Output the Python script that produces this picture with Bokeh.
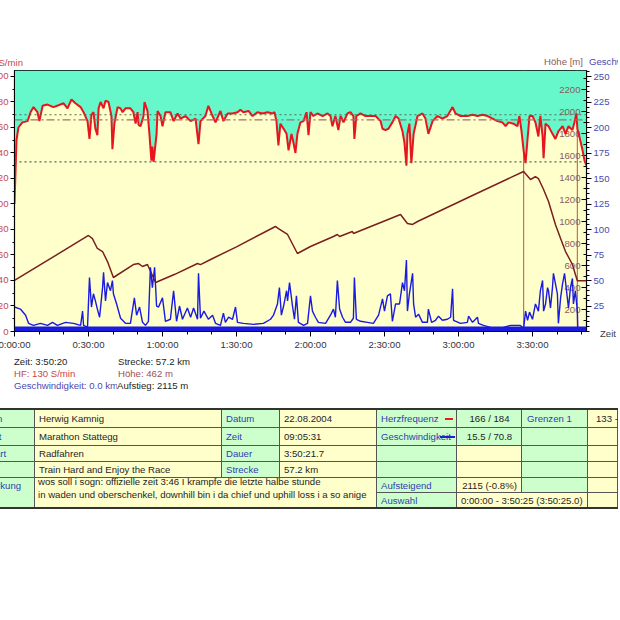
import numpy as np
from bokeh.plotting import figure
from bokeh.models import Range1d, LinearAxis, FixedTicker, BoxAnnotation, Span, Div
from bokeh.layouts import column
from bokeh.embed import file_html
from bokeh.resources import INLINE
from bokeh.core.properties import value

# ---------------- data (time in minutes) ----------------
hr_time_min = [
    0.0, 0.8, 1.6, 3.2, 5.3, 6.5, 7.7, 9.3, 10.1, 11.4,
    13.4, 15.8, 18.6, 19.9, 21.5, 23.1, 24.7, 26.8, 28.0, 29.6,
    30.4, 31.2, 32.0, 32.8, 33.6, 34.1, 34.9, 36.1, 36.9, 38.1,
    39.3, 39.7, 40.5, 41.8, 43.0, 43.8, 45.0, 47.0, 48.2, 49.1,
    49.9, 50.3, 51.1, 52.3, 52.7, 53.9, 54.7, 55.5, 55.9, 56.4,
    57.6, 58.0, 59.2, 60.0, 61.2, 63.2, 64.5, 66.1, 67.3, 69.3,
    71.4, 73.4, 74.6, 75.4, 77.4, 78.6, 80.3, 81.5, 83.5, 84.7,
    86.4, 88.4, 90.4, 91.6, 92.8, 94.9, 96.5, 98.5, 100.5, 102.6,
    104.6, 105.4, 106.2, 107.0, 107.8, 109.1, 110.3, 111.1, 112.3, 113.1,
    113.9, 114.7, 115.9, 117.2, 118.4, 119.2, 120.0, 121.2, 122.8, 124.9,
    126.9, 128.1, 128.9, 130.1, 131.3, 132.2, 133.4, 135.0, 136.2, 137.4,
    137.8, 138.6, 140.3, 142.3, 144.3, 146.4, 148.4, 149.2, 150.4, 151.6,
    153.2, 154.5, 155.7, 157.3, 158.1, 158.9, 159.3, 160.1, 160.9, 161.8,
    163.4, 165.4, 166.6, 167.8, 169.5, 171.5, 173.5, 175.5, 177.6, 178.8,
    180.8, 183.6, 185.7, 187.7, 189.7, 191.8, 193.8, 195.8, 197.8, 199.1,
    200.3, 202.3, 203.9, 204.7, 205.5, 206.4, 207.2, 208.0, 208.8, 210.0,
    211.2, 212.4, 213.2, 214.1, 214.5, 215.3, 216.5, 218.1, 219.3, 220.5,
    222.2, 223.4, 224.6, 226.2, 227.0, 227.8, 228.2, 229.0, 230.2, 231.1,
    231.9]
hr_bpm = [
    100, 150, 160, 164, 165, 172, 176, 172, 165, 177,
    178, 176, 178, 179, 175, 182, 179, 176, 172, 165,
    151, 170, 172, 159, 154, 175, 180, 175, 181, 180,
    169, 143, 163, 176, 175, 172, 175, 175, 172, 163,
    172, 162, 161, 169, 180, 173, 155, 134, 145, 133,
    155, 173, 169, 161, 172, 172, 165, 171, 167, 169,
    165, 167, 147, 165, 169, 177, 169, 164, 173, 165,
    171, 171, 172, 174, 172, 173, 169, 172, 171, 172,
    171, 172, 165, 146, 163, 159, 155, 142, 155, 148,
    140, 155, 164, 165, 172, 154, 172, 169, 171, 169,
    171, 169, 161, 169, 158, 169, 164, 171, 172, 169,
    151, 169, 171, 169, 169, 169, 165, 159, 158, 159,
    164, 169, 167, 157, 148, 130, 155, 163, 132, 155,
    169, 171, 167, 155, 165, 169, 167, 169, 176, 171,
    169, 169, 170, 169, 170, 169, 167, 165, 164, 161,
    164, 163, 161, 169, 158, 142, 132, 151, 169, 169,
    164, 153, 169, 153, 136, 163, 161, 155, 151, 157,
    161, 155, 161, 158, 164, 171, 159, 153, 143, 134,
    130]

alt_time_min = [
    0.0, 30.0, 31.6, 33.6, 35.7, 37.7, 40.1, 48.2, 50.3, 51.9,
    53.9, 57.2, 65.0, 74.2, 75.4, 79.5, 90.0, 105.8, 107.0, 110.7,
    114.7, 120.0, 129.3, 130.9, 131.8, 137.0, 137.4, 156.5, 159.3, 161.4,
    163.4, 185.0, 206.4, 209.2, 211.2, 212.4, 214.5, 216.5, 219.3, 221.4,
    223.4, 226.2, 227.4, 228.2, 231.9]
alt_m = [
    464, 873, 845, 755, 727, 636, 491, 609, 618, 591,
    609, 445, 520, 618, 608, 655, 770, 955, 936, 882,
    709, 773, 864, 882, 864, 909, 891, 1064, 982, 973,
    1000, 1230, 1455, 1382, 1409, 1391, 1291, 1182, 973, 845,
    727, 609, 518, 462, 462]

spd_time_min = [
    0.0, 2.4, 4.5, 5.7, 7.7, 10.5, 13.4, 15.4, 17.4, 20.7,
    23.9, 26.8, 27.6, 28.0, 29.6, 30.4, 31.2, 32.0, 32.8, 33.6,
    34.5, 35.7, 36.1, 36.9, 37.7, 38.9, 39.7, 40.1, 41.4, 43.0,
    45.0, 47.0, 48.6, 49.5, 50.7, 51.9, 53.1, 54.3, 55.1, 55.9,
    56.8, 57.6, 58.4, 60.0, 61.2, 63.2, 64.5, 65.7, 66.9, 68.1,
    70.1, 71.4, 72.6, 74.2, 74.6, 75.4, 76.8, 78.6, 80.3, 81.5,
    83.5, 84.7, 85.5, 86.8, 88.4, 89.6, 90.4, 92.8, 96.9, 100.9,
    103.8, 105.0, 106.6, 107.4, 108.2, 109.1, 110.3, 110.7, 111.5, 112.7,
    113.5, 114.3, 115.1, 117.2, 118.8, 120.0, 120.8, 122.0, 123.2, 126.1,
    128.1, 129.3, 130.1, 130.9, 131.8, 133.0, 134.2, 136.2, 137.4, 137.8,
    138.6, 140.3, 143.1, 145.5, 147.6, 149.2, 150.0, 151.2, 152.4, 153.2,
    154.5, 156.1, 157.3, 158.1, 158.9, 159.3, 160.1, 161.4, 161.8, 162.6,
    163.8, 165.4, 167.4, 167.8, 169.1, 170.7, 171.9, 173.5, 175.5, 176.8,
    177.6, 178.0, 180.8, 183.6, 184.1, 185.7, 187.7, 188.1, 190.1, 193.0,
    197.0, 201.1, 205.1, 206.4, 207.2, 208.0, 208.8, 210.0, 211.2, 212.4,
    213.2, 214.1, 214.5, 215.3, 216.1, 216.5, 217.3, 218.1, 218.5, 219.3,
    220.1, 220.5, 221.4, 222.2, 223.0, 223.8, 224.6, 225.4, 226.2, 226.6,
    227.4, 228.2, 228.4, 231.9]
spd_kmh = [
    24, 22, 16, 8, 6, 8, 6, 9, 6, 9,
    8, 6, 20, 6, 4, 53, 24, 37, 30, 22,
    14, 43, 58, 30, 48, 40, 50, 37, 27, 13,
    8, 8, 33, 16, 24, 9, 6, 10, 63, 43,
    63, 25, 24, 33, 10, 12, 40, 10, 25, 12,
    23, 14, 23, 12, 57, 13, 20, 12, 16, 8,
    6, 18, 9, 14, 12, 24, 9, 8, 7, 8,
    12, 16, 27, 43, 16, 25, 40, 30, 48, 25,
    12, 35, 9, 6, 8, 35, 20, 14, 9, 8,
    16, 22, 14, 50, 22, 14, 9, 9, 13, 53,
    12, 10, 9, 8, 16, 32, 20, 35, 37, 10,
    27, 27, 48, 40, 70, 20, 37, 57, 27, 14,
    17, 9, 9, 22, 9, 11, 15, 11, 12, 14,
    42, 11, 8, 9, 15, 9, 14, 8, 6, 4,
    3, 6, 6, 3, 20, 11, 19, 12, 27, 20,
    40, 50, 20, 27, 43, 40, 23, 43, 57, 47,
    37, 8, 33, 47, 57, 40, 23, 43, 52, 27,
    40, 20, 0, 0]

hr_limits = [133, 170]
hr_mean = 166
lap_min = [206.4, 228.2]
x_end_min = 231.9
time_tick_labels = ["0:00:00", "0:30:00", "1:00:00", "1:30:00", "2:00:00",
                    "2:30:00", "3:00:00", "3:30:00"]
hr_ticks = [0, 20, 40, 60, 80, 100, 120, 140, 160, 180, 200]
alt_ticks = [200, 400, 600, 800, 1000, 1200, 1400, 1600, 1800, 2000, 2200]
spd_ticks = [25, 50, 75, 100, 125, 150, 175, 200, 225, 250]

assert len(hr_time_min) == len(hr_bpm)
assert len(alt_time_min) == len(alt_m)
assert len(spd_time_min) == len(spd_kmh)

# ---------------- styling ----------------
FONT = "Liberation Sans"
FS = "9.6px"
HR_COL = "#C8464B"
ALT_COL = "#8A5C5C"
SPD_COL = "#4A4AB0"
CYAN = "#66F8CA"
YELLOW = "#FFFFCC"
W = 650

def sec(arr):
    return [m * 60.0 for m in arr]

X_END = x_end_min * 60.0
HR_TOP = 204.7

p = figure(width=W, height=287, output_backend="svg", toolbar_location=None,
           x_range=Range1d(0, X_END), y_range=Range1d(0, HR_TOP),
           min_border_left=46, min_border_right=32, min_border_top=2,
           min_border_bottom=24, background_fill_color=YELLOW,
           border_fill_color="white", outline_line_color="black",
           outline_line_width=1.2)
p.extra_y_ranges = {"alt": Range1d(0, 2373), "spd": Range1d(0, 256)}
p.grid.visible = False

# x axis
xt = [i * 1800 for i in range(len(time_tick_labels))]
xm = [i * 600 for i in range(int(X_END // 600) + 1)]
xa = p.xaxis[0]
xa.ticker = FixedTicker(ticks=xt, minor_ticks=xm)
xa.major_label_overrides = {t: s for t, s in zip(xt, time_tick_labels)}
xa.major_tick_out = 5
xa.major_tick_in = 0
xa.minor_tick_out = 3
xa.minor_tick_in = 0
xa.major_label_standoff = 2
xa.major_label_text_font = FONT
xa.major_label_text_font_size = FS
xa.major_label_text_color = "#333333"
xa.axis_line_color = "black"

# left HR axis
ya = p.yaxis[0]
ya.ticker = FixedTicker(ticks=hr_ticks, minor_ticks=list(range(0, 205, 10)))
ya.major_tick_out = 4
ya.major_tick_in = 0
ya.minor_tick_out = 2
ya.minor_tick_in = 0
ya.major_label_standoff = 2
ya.major_label_text_font = FONT
ya.major_label_text_font_size = FS
ya.major_label_text_color = HR_COL

# right speed axis
sa = LinearAxis(y_range_name="spd",
                ticker=FixedTicker(ticks=spd_ticks, minor_ticks=list(range(0, 256, 5))))
sa.major_tick_out = 5
sa.major_tick_in = 0
sa.minor_tick_out = 3
sa.minor_tick_in = 0
sa.major_label_standoff = 2
sa.major_label_text_font = FONT
sa.major_label_text_font_size = FS
sa.major_label_text_color = SPD_COL
p.add_layout(sa, "right")

# lap / cursor lines (under the cyan fill)
lap_s = sec(lap_min)
p.segment(x0=lap_s, x1=lap_s, y0=[0] * len(lap_s), y1=[HR_TOP] * len(lap_s),
          line_color="#C8705A", line_width=1.2)

hr_s = sec(hr_time_min)
p.varea(x=hr_s, y1=hr_bpm, y2=[HR_TOP] * len(hr_s), fill_color=CYAN)

# altitude tick labels inside the frame
p.text(x=[X_END] * len(alt_ticks), y=alt_ticks, text=[str(v) for v in alt_ticks],
       y_range_name="alt", x_offset=-6, text_align="right", text_baseline="middle",
       text_font=value(FONT), text_font_size=FS, text_color=ALT_COL)
p.ray(x=[X_END] * len(alt_ticks), y=alt_ticks, length=5, length_units="screen",
      angle=np.pi, y_range_name="alt", line_color="black", line_width=1)
alt_minor = list(range(100, 2373, 200))
p.ray(x=[X_END] * len(alt_minor), y=alt_minor, length=3, length_units="screen",
      angle=np.pi, y_range_name="alt", line_color="black", line_width=1)

# curves
p.line(sec(alt_time_min), alt_m, y_range_name="alt", line_color="#7B1F1F", line_width=1.5)
p.line(sec(spd_time_min), spd_kmh, y_range_name="spd", line_color="#1A1AE0", line_width=1.4)
p.line(hr_s, hr_bpm, line_color="#E8141E", line_width=2)

for lim in hr_limits:
    p.add_layout(Span(location=lim, dimension="width", line_color="#4D6B5A",
                      line_dash="2 3", line_width=1.2))
p.add_layout(Span(location=hr_mean, dimension="width", line_color="#A0706A",
                  line_dash="8 3 2 3", line_width=1.2))

p.add_layout(BoxAnnotation(bottom=0, top=5, y_range_name="spd", fill_color="#1A1AE0",
                           fill_alpha=1.0, line_color=None))

# ---------------- HTML helpers ----------------
OX = 32   # div x = screen x + OX

def tdiv(x, yc, s, color, oy, width=None, align="left", bg=None):
    st = (f'position:absolute;left:{x + OX}px;top:{yc - 7 - oy}px;height:14px;'
          f'line-height:14px;color:{color};white-space:nowrap;')
    if width is not None:
        st += f'width:{width}px;text-align:{align};overflow:hidden;'
    if bg:
        st += f'background:{bg};'
    return f'<div style="{st}">{s}</div>'

FONT_CSS = "font-family:'Liberation Sans',Arial,sans-serif;font-size:9.6px;"

# ---- titles above the chart (screen y 0..68)
TOP_H = 68
tparts = [
    tdiv(-32, 63, "HF S/min", HR_COL, 0, width=23 + 32, align="right"),
    tdiv(-32, 62, "Höhe [m]", ALT_COL, 0, width=583 + 32, align="right"),
    tdiv(589, 62, "Geschwindigkeit [km/h]", SPD_COL, 0),
]
top_div = Div(text=f'<div style="position:relative;width:{W}px;height:{TOP_H}px;'
                   f'overflow:hidden;{FONT_CSS}">' + "".join(tparts) + '</div>',
              width=W, height=TOP_H, margin=0)

# ---- info text and table below the chart (screen y 355..)
OY = 355
G = "#CCFFCC"
Y = "#FFFFCC"
BL = "#3040B0"
BK = "#1E1E1E"
CX = [-32, 35, 222, 280, 377, 457, 522, 588, 618]
RY = [410, 428, 446, 462, 478, 493, 508]
col5 = [G, G, Y, Y]

cells = []
for r in range(4):
    cols = [G, Y, G, Y, G, col5[r], G, Y]
    for c, bg in enumerate(cols):
        cells.append((c, c + 1, r, r + 1, bg))
cells += [(0, 1, 4, 6, G), (1, 4, 4, 6, Y), (4, 5, 4, 5, G), (5, 6, 4, 5, Y),
          (6, 7, 4, 5, G), (7, 8, 4, 5, Y), (4, 5, 5, 6, G), (5, 7, 5, 6, Y),
          (7, 8, 5, 6, Y)]

parts = []
parts.append(tdiv(600, 334, "Zeit", "#404040", OY))
parts.append(tdiv(14, 362, "Zeit: 3:50:20", BK, OY))
parts.append(tdiv(118, 362, "Strecke: 57.2 km", BK, OY))
parts.append(tdiv(14, 374, "HF: 130 S/min", HR_COL, OY))
parts.append(tdiv(118, 374, "Höhe: 462 m", "#A05050", OY))
parts.append(tdiv(14, 386, "Geschwindigkeit: 0.0 km/h", SPD_COL, OY, width=103))
parts.append(tdiv(117, 386, "Aufstieg: 2115 m", BK, OY))

for c0, c1, r0, r1, bg in cells:
    x, y = CX[c0] + OX, RY[r0] - OY
    w, h = CX[c1] - CX[c0], RY[r1] - RY[r0]
    parts.append(f'<div style="position:absolute;left:{x}px;top:{y}px;width:{w}px;'
                 f'height:{h}px;background:{bg};box-sizing:border-box;'
                 f'border-right:1px solid #555;border-bottom:1px solid #555"></div>')
parts.append(f'<div style="position:absolute;left:0;top:{408 - OY}px;width:{W}px;height:2px;background:#333"></div>')
parts.append(f'<div style="position:absolute;left:0;top:{507 - OY}px;width:{W}px;height:2px;background:#333"></div>')

row_c = [419, 437, 454, 470]
left_labels = ["Person", "Einheit", "Sportart", "Notiz"]
left_values = ["Herwig Kamnig", "Marathon Stattegg", "Radfahren", "Train Hard and Enjoy the Race"]
mid_labels = ["Datum", "Zeit", "Dauer", "Strecke"]
mid_values = ["22.08.2004", "09:05:31", "3:50:21.7", "57.2 km"]
for i in range(4):
    parts.append(tdiv(CX[0] + 4, row_c[i], left_labels[i], BL, OY))
    parts.append(tdiv(CX[1] + 4, row_c[i], left_values[i], BK, OY))
    parts.append(tdiv(CX[2] + 4, row_c[i], mid_labels[i], BL, OY))
    parts.append(tdiv(CX[3] + 4, row_c[i], mid_values[i], BK, OY))
parts.append(tdiv(CX[4] + 4, 419, "Herzfrequenz", BL, OY))
parts.append(tdiv(CX[4] + 4, 437, "Geschwindigkeit", BL, OY))
parts.append(tdiv(CX[5], 419, "166 / 184", BK, OY, width=CX[6] - CX[5], align="center"))
parts.append(tdiv(CX[5], 437, "15.5 / 70.8", BK, OY, width=CX[6] - CX[5], align="center"))
parts.append(tdiv(CX[6] + 5, 419, "Grenzen 1", BL, OY))
parts.append(tdiv(596, 419, "133 - 170", BK, OY, width=CX[8] - 596))
parts.append(tdiv(CX[0] + 4, 486, "Anmerkung", BL, OY))
parts.append(tdiv(CX[1] + 3, 482, "wos soll i sogn: offizielle zeit 3:46 I krampfe die letzte halbe stunde", BK, OY))
parts.append(tdiv(CX[1] + 3, 495, "in waden und oberschenkel, downhill bin i da chief und uphill loss i a so anige", BK, OY))
parts.append(tdiv(CX[4] + 4, 486, "Aufsteigend", BL, OY))
parts.append(tdiv(CX[5], 486, "2115 (-0.8%)", BK, OY, width=CX[6] - CX[5], align="center"))
parts.append(tdiv(CX[4] + 4, 501, "Auswahl", BL, OY))
parts.append(tdiv(CX[5] + 4, 501, "0:00:00 - 3:50:25 (3:50:25.0)", BK, OY))
parts.append(f'<div style="position:absolute;left:{445 + OX}px;top:{418 - OY}px;width:8px;height:2px;background:#E02020"></div>')
parts.append(f'<div style="position:absolute;left:{440 + OX}px;top:{436 - OY}px;width:15px;height:2px;background:#2020D0"></div>')

BOT_H = 160
bottom_div = Div(text=f'<div style="position:relative;width:{W}px;height:{BOT_H}px;'
                      f'{FONT_CSS}">' + "".join(parts) + '</div>',
                 width=W, height=BOT_H, margin=0)

root = column(top_div, p, bottom_div, spacing=0, styles={"margin-left": "-32px"})
open("out.html", "w").write(file_html(root, INLINE))
